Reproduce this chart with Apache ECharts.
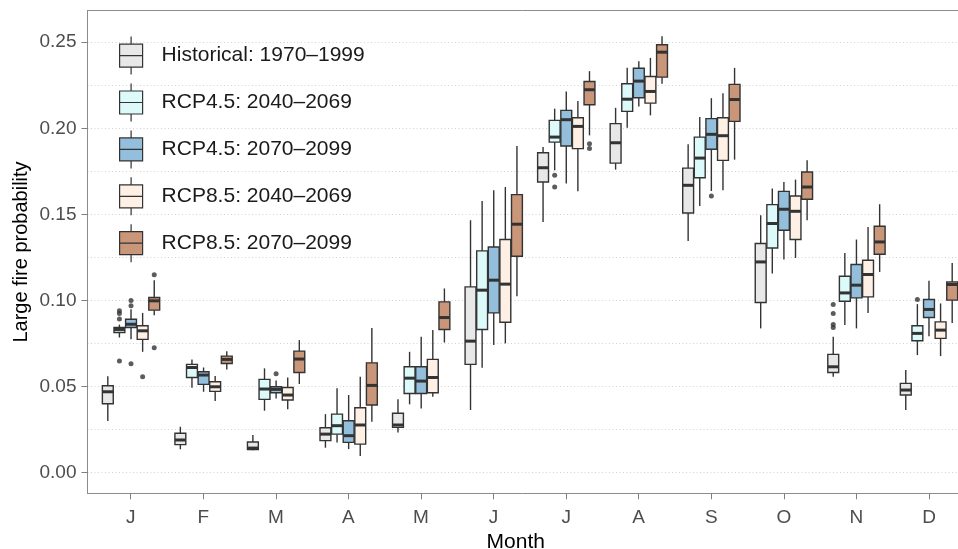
<!DOCTYPE html>
<html>
<head>
<meta charset="utf-8">
<title>Large fire probability by month</title>
<script src="https://cdn.jsdelivr.net/npm/echarts@6/dist/echarts.min.js"></script>
<style>
  html, body { margin: 0; padding: 0; background: #ffffff; }
  #chart { width: 958px; height: 549px; }
</style>
</head>
<body>
<div id="chart"></div>
<script>
var months = ["J", "F", "M", "A", "M", "J", "J", "A", "S", "O", "N", "D"];
var periods = [
  "Historical: 1970\u20131999",
  "RCP4.5: 2040\u20132069",
  "RCP4.5: 2070\u20132099",
  "RCP8.5: 2040\u20132069",
  "RCP8.5: 2070\u20132099"
];

// one row per month: [lower whisker, Q1, median, Q3, upper whisker]
var historical = [
  [0.030, 0.040, 0.047, 0.0505, 0.056],
  [0.0136, 0.0163, 0.019, 0.0229, 0.0267],
  [0.013, 0.0135, 0.0143, 0.0178, 0.0219],
  [0.0145, 0.0186, 0.0224, 0.0261, 0.034],
  [0.0234, 0.0263, 0.0277, 0.0345, 0.0426],
  [0.0364, 0.0629, 0.0764, 0.1079, 0.1466],
  [0.1456, 0.1688, 0.1771, 0.1858, 0.1891],
  [0.176, 0.1798, 0.1916, 0.2027, 0.2119],
  [0.1346, 0.1508, 0.1669, 0.1769, 0.1907],
  [0.0838, 0.0988, 0.1224, 0.1331, 0.1495],
  [0.0557, 0.0582, 0.0615, 0.0687, 0.0789],
  [0.0364, 0.0451, 0.048, 0.0519, 0.0596]
];
var rcp45Mid = [
  [0.0785, 0.0814, 0.0832, 0.0843, 0.086],
  [0.0493, 0.0553, 0.0611, 0.0629, 0.0658],
  [0.036, 0.0426, 0.0486, 0.0542, 0.0606],
  [0.0176, 0.0224, 0.0273, 0.034, 0.049],
  [0.0397, 0.046, 0.0549, 0.0615, 0.0702],
  [0.0609, 0.0832, 0.106, 0.1288, 0.1578],
  [0.1756, 0.192, 0.1949, 0.2046, 0.2114],
  [0.2003, 0.2098, 0.2169, 0.2259, 0.2351],
  [0.1549, 0.1713, 0.1827, 0.1949, 0.2065],
  [0.1157, 0.1305, 0.1447, 0.1557, 0.165],
  [0.0857, 0.0996, 0.1044, 0.1141, 0.1276],
  [0.0683, 0.0766, 0.0809, 0.0853, 0.0979]
];
var rcp45End = [
  [0.0775, 0.0843, 0.0862, 0.0891, 0.0949],
  [0.047, 0.0513, 0.0567, 0.0586, 0.0611],
  [0.0431, 0.0464, 0.0484, 0.0499, 0.0535],
  [0.0137, 0.0176, 0.0215, 0.0302, 0.0451],
  [0.0373, 0.046, 0.0532, 0.0615, 0.0789],
  [0.0741, 0.0928, 0.1118, 0.1311, 0.164],
  [0.1679, 0.1897, 0.205, 0.2104, 0.2214],
  [0.2127, 0.2177, 0.2274, 0.2349, 0.239],
  [0.1636, 0.1878, 0.1965, 0.2056, 0.2175],
  [0.1238, 0.1408, 0.153, 0.1634, 0.1688],
  [0.0838, 0.1015, 0.1089, 0.1209, 0.1354],
  [0.0793, 0.0901, 0.0948, 0.1006, 0.1114]
];
var rcp85Mid = [
  [0.0702, 0.0774, 0.0824, 0.0853, 0.0928],
  [0.0416, 0.0472, 0.0499, 0.0528, 0.0561],
  [0.0368, 0.0422, 0.0451, 0.0495, 0.0553],
  [0.0097, 0.0166, 0.0277, 0.0377, 0.0557],
  [0.0441, 0.0464, 0.0553, 0.0658, 0.0828],
  [0.0751, 0.0874, 0.1095, 0.1354, 0.1659],
  [0.1634, 0.1882, 0.2011, 0.2061, 0.2158],
  [0.2075, 0.2146, 0.2214, 0.2301, 0.2409],
  [0.164, 0.1814, 0.1957, 0.2061, 0.2204],
  [0.1247, 0.1354, 0.1518, 0.1607, 0.1702],
  [0.0928, 0.1021, 0.1151, 0.1234, 0.1427],
  [0.0677, 0.078, 0.0828, 0.0876, 0.0983]
];
var rcp85End = [
  [0.0915, 0.0944, 0.0998, 0.1017, 0.1118],
  [0.060, 0.0634, 0.0658, 0.0677, 0.0706],
  [0.0515, 0.0582, 0.066, 0.0706, 0.077],
  [0.0296, 0.0393, 0.0507, 0.0638, 0.0841],
  [0.0756, 0.0832, 0.0901, 0.0992, 0.107],
  [0.1025, 0.1257, 0.1443, 0.1615, 0.1897],
  [0.1959, 0.2137, 0.2224, 0.2272, 0.2332],
  [0.2259, 0.2297, 0.2442, 0.2485, 0.2535],
  [0.1818, 0.204, 0.2167, 0.2255, 0.2351],
  [0.1466, 0.1588, 0.1659, 0.1746, 0.1814],
  [0.1166, 0.1269, 0.134, 0.1431, 0.1559],
  [0.087, 0.1002, 0.1093, 0.1108, 0.1218]
];

// outliers: [month number, value]
var outHistorical = [[11, 0.0843], [11, 0.0861], [11, 0.0925], [11, 0.0977]];
var outRcp45Mid = [[1, 0.094], [1, 0.0925], [1, 0.0893], [1, 0.0648], [7, 0.1727], [7, 0.1659], [12, 0.1006]];
var outRcp45End = [[1, 0.100], [1, 0.0969], [1, 0.0632], [3, 0.0575], [9, 0.1607]];
var outRcp85Mid = [[1, 0.0557]];
var outRcp85End = [[1, 0.1149], [1, 0.0725], [7, 0.191], [7, 0.1882]];

var yTicks = [0, 0.05, 0.10, 0.15, 0.20, 0.25];

var stats = [historical, rcp45Mid, rcp45End, rcp85Mid, rcp85End];
var outliers = [outHistorical, outRcp45Mid, outRcp45End, outRcp85Mid, outRcp85End];
var fills = ["#e8e8e8", "#dcfafa", "#93bfdc", "#fef0e4", "#c9967a"];

var FONT = "'Liberation Sans', Arial, Helvetica, sans-serif";
var DODGE = 0.16;
var BOX_W = 0.15;
var INK = "#333333";
var AXIS_GREY = "#8c8c8c";
// panel runs a little past the right edge of the picture
var X_MIN = 0.4, X_MAX = 12.4;

function renderBox(params, api) {
  var x = api.value(0);
  var lo = api.coord([x, api.value(1)]);
  var q1 = api.coord([x, api.value(2)]);
  var md = api.coord([x, api.value(3)]);
  var q3 = api.coord([x, api.value(4)]);
  var hi = api.coord([x, api.value(5)]);
  var w = api.size([BOX_W, 0])[0];
  var cx = md[0];
  var whisker = { stroke: INK, lineWidth: 1.4 };
  return {
    type: "group",
    children: [
      { type: "line", shape: { x1: cx, y1: hi[1], x2: cx, y2: q3[1] }, style: whisker },
      { type: "line", shape: { x1: cx, y1: q1[1], x2: cx, y2: lo[1] }, style: whisker },
      {
        type: "rect",
        shape: { x: cx - w / 2, y: q3[1], width: w, height: q1[1] - q3[1] },
        style: { fill: api.visual("color"), stroke: INK, lineWidth: 1.4 }
      },
      {
        type: "line",
        shape: { x1: cx - w / 2, y1: md[1], x2: cx + w / 2, y2: md[1] },
        style: { stroke: INK, lineWidth: 3 }
      }
    ]
  };
}

var series = periods.map(function (name, s) {
  return {
    name: name,
    type: "custom",
    xAxisIndex: 1,
    yAxisIndex: 1,
    clip: false,
    renderItem: renderBox,
    itemStyle: { color: fills[s] },
    encode: { x: 0, y: [1, 2, 3, 4, 5] },
    data: stats[s].map(function (row, i) {
      return [i + 1 + (s - 2) * DODGE].concat(row);
    })
  };
});

var outlierPoints = [];
outliers.forEach(function (list, s) {
  list.forEach(function (p) {
    outlierPoints.push([p[0] + (s - 2) * DODGE, p[1]]);
  });
});
series.push({
  name: "outliers",
  type: "scatter",
  xAxisIndex: 1,
  yAxisIndex: 1,
  clip: false,
  symbolSize: 5,
  itemStyle: { color: INK },
  data: outlierPoints
});

var hidden = {
  axisLine: { show: false },
  axisTick: { show: false },
  axisLabel: { show: false },
  splitLine: { show: false }
};
var frameOnly = {
  axisLine: { show: true, onZero: false, lineStyle: { color: AXIS_GREY, width: 1 } },
  axisTick: { show: false },
  axisLabel: { show: false },
  splitLine: { show: false }
};
var dotted = { color: "#d2d2d2", width: 1, type: [1, 2.5] };

var chart = echarts.init(document.getElementById("chart"));
var option = {
  animation: false,
  backgroundColor: "#ffffff",
  textStyle: { fontFamily: FONT },
  grid: [
    // panel frame
    { left: 87.5, right: 0, top: 10.7, bottom: 55.7, containLabel: false, outerBoundsMode: "none" },
    // y scale: 0 .. 0.25
    { left: 87.5, right: 0, top: 42.2, bottom: 76.3, containLabel: false, outerBoundsMode: "none" },
    // x ticks: J .. D
    { left: 130.7, right: 29, top: 10.7, bottom: 55.7, containLabel: false, outerBoundsMode: "none" }
  ],
  xAxis: [
    Object.assign({
      gridIndex: 0, type: "value", min: X_MIN, max: X_MAX,
      name: "Month", nameLocation: "middle", nameGap: 38,
      nameTextStyle: { fontSize: 21, color: "#000000", padding: [0, 14, 0, 0] }
    }, frameOnly),
    Object.assign({ gridIndex: 1, type: "value", min: X_MIN, max: X_MAX }, hidden),
    {
      gridIndex: 2, type: "value", min: 1, max: 12, interval: 1,
      axisLine: { show: false, onZero: false },
      axisTick: { show: true, length: 6, lineStyle: { color: "#7f7f7f", width: 1 } },
      axisLabel: {
        margin: 15, fontSize: 19, color: "#4d4d4d",
        formatter: function (v) { return months[v - 1]; }
      },
      splitLine: { show: false }
    },
    Object.assign({ gridIndex: 0, type: "value", position: "top", min: X_MIN, max: X_MAX }, frameOnly)
  ],
  yAxis: [
    Object.assign({
      gridIndex: 0, type: "value", min: -0.0128, max: 0.2688,
      name: "Large fire probability", nameLocation: "middle", nameGap: 56,
      nameTextStyle: { fontSize: 20, color: "#000000" }
    }, frameOnly),
    {
      gridIndex: 1, type: "value", min: yTicks[0], max: yTicks[yTicks.length - 1], interval: 0.05,
      axisLine: { show: false, onZero: false },
      axisTick: { show: true, length: 6, lineStyle: { color: "#7f7f7f", width: 1 } },
      axisLabel: {
        margin: 11, fontSize: 19, color: "#4d4d4d",
        formatter: function (v) { return v.toFixed(2); }
      },
      splitLine: { show: true, lineStyle: dotted },
      minorTick: { show: false, splitNumber: 2 },
      minorSplitLine: { show: true, lineStyle: dotted }
    },
    Object.assign({ gridIndex: 2, type: "value", min: 0, max: 1 }, hidden)
  ],
  legend: {
    orient: "vertical",
    left: 119,
    top: 36,
    padding: 0,
    itemWidth: 23,
    itemHeight: 38,
    itemGap: 7.7,
    icon: "path://M11.5,0V7.5M11.5,30.5V38M0,7.5H23V30.5H0ZM0,19H23",
    itemStyle: { borderColor: INK, borderWidth: 1.2 },
    textStyle: { fontSize: 21, color: "#1a1a1a", fontFamily: FONT, padding: [0, 0, 0, 14] },
    data: periods
  },
  series: series
};
chart.setOption(option);
</script>
</body>
</html>
